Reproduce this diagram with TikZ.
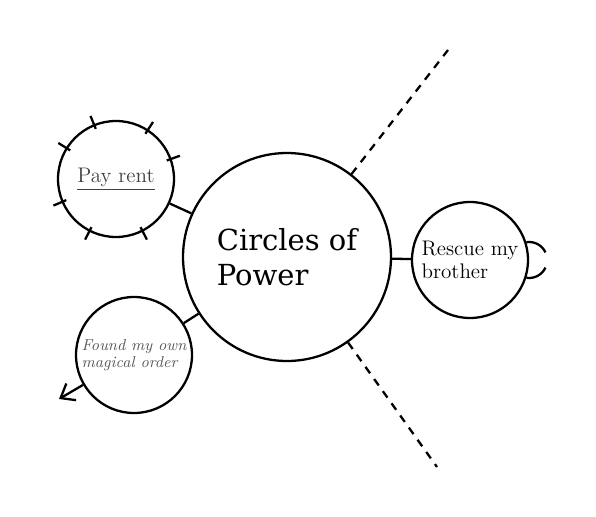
\documentclass[tikz,border=0pt]{standalone}
\usepackage{fontspec}
\newfontfamily\corefont{DejaVu Serif}
\usetikzlibrary{arrows.meta, positioning}

\begin{document}
\begin{tikzpicture}[
      line width = 1.3pt,
          core/.style = {circle, draw, minimum size=4.16cm, inner sep=0pt,
                         font=\corefont\fontsize{16.5}{20}\selectfont, align=left},
          goal/.style = {circle, draw, minimum size=2.32cm, inner sep=0pt, align=left},
          spoke/.style = {dash pattern=on 4.5pt off 4pt}]
  \useasboundingbox (0,0) rectangle (11.92,10.32);
  \node[core] (power) at (5.74,5.18) {Circles of\\Power};
  \node[goal, font=\fontsize{12}{13}\selectfont, text=black!75] (rent) at (2.32,6.74) {\underline{Pay rent}};
  \node[goal, font=\itshape\fontsize{9}{10}\selectfont, text=black!65] (order) at (2.68,3.22) {Found my own\\magical order};
  \node[goal, font=\fontsize{12}{13}\selectfont] (brother) at (9.40,5.12) {Rescue my\\brother};
  \coordinate (upper) at (8.96,9.32);
  \coordinate (lower) at (8.74,0.98);
  \coordinate (away) at (1.18,2.34);
  \draw (rent) -- (power);
  \draw (order) -- (power);
  \draw (power) -- (brother);
  \draw[spoke] (power) -- (upper);
  \draw[spoke] (power) -- (lower);
  \draw[-{Straight Barb[length=7pt, width=11pt]}] (order) -- (away);
  % rays round the rent circle
  \foreach \a in {20,57,112,148,203,243,297}
    \draw (rent.center) ++(\a:1.08) -- ++(\a:0.28);
  % brackets on the right of the brother circle
  \draw (brother.east) ++(99:0.36) arc[start angle=99, end angle=25, radius=0.36];
  \draw (brother.east) ++(-99:0.36) arc[start angle=-99, end angle=-25, radius=0.36];
\end{tikzpicture}
\end{document}
